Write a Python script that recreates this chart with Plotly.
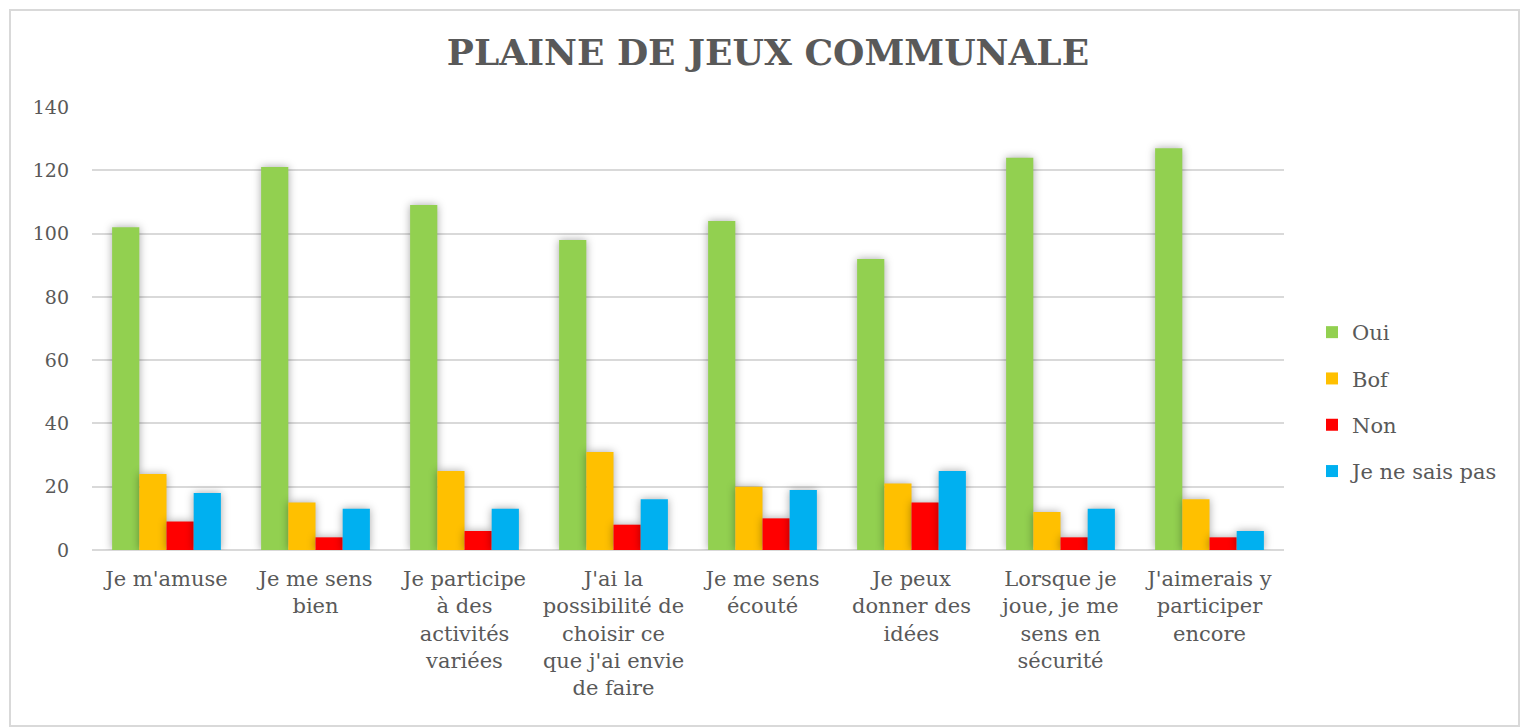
import plotly.graph_objects as go

# Survey answers per statement
categories = [
    "Je m'amuse",
    "Je me sens<br>bien",
    "Je participe<br>à des<br>activités<br>variées",
    "J'ai la<br>possibilité de<br>choisir ce<br>que j'ai envie<br>de faire",
    "Je me sens<br>écouté",
    "Je peux<br>donner des<br>idées",
    "Lorsque je<br>joue, je me<br>sens en<br>sécurité",
    "J'aimerais y<br>participer<br>encore",
]
oui = [102, 121, 109, 98, 104, 92, 124, 127]
bof = [24, 15, 25, 31, 20, 21, 12, 16]
non = [9, 4, 6, 8, 10, 15, 4, 4]
ne_sais_pas = [18, 13, 13, 16, 19, 25, 13, 6]

y_ticks = [0, 20, 40, 60, 80, 100, 120, 140]

series = [
    ("Oui", oui, "#92D050"),
    ("Bof", bof, "#FFC000"),
    ("Non", non, "#FF0000"),
    ("Je ne sais pas", ne_sais_pas, "#00B0F0"),
]

FONT = "DejaVu Serif"
GREY = "#595959"

fig = go.Figure()
for name, vals, color in series:
    fig.add_trace(go.Bar(
        x=categories, y=vals, name=name,
        marker=dict(color=color, line=dict(width=0)),
        legendgroup=name,
    ))

W, H = 1521, 728
L, R, T, B = 92, 237, 107, 178
pw, ph = W - L - R, H - T - B

def px_x(v):
    return (v - L) / pw

def px_y(v):
    return (H - B - v) / ph

fig.update_layout(
    width=W, height=H,
    margin=dict(l=L, r=R, t=T, b=B),
    paper_bgcolor="white", plot_bgcolor="white",
    barmode="group", bargap=0.27, bargroupgap=0.0,
    title=dict(
        text="<b>PLAINE DE JEUX COMMUNALE</b>",
        font=dict(family=FONT, size=36, color=GREY),
        x=768 / W, xanchor="center", xref="container",
        y=1 - 52 / H, yanchor="middle", yref="container",
    ),
    font=dict(family=FONT, size=20, color=GREY),
    xaxis=dict(
        showgrid=False, showline=False, ticks="",
        tickfont=dict(family=FONT, size=21, color=GREY),
        ticklabelstandoff=14,
    ),
    yaxis=dict(
        range=[0, 140], tickvals=y_ticks,
        showgrid=True, gridcolor="#D9D9D9", gridwidth=2,
        zeroline=True, zerolinecolor="#D9D9D9", zerolinewidth=2,
        showline=False, ticks="",
        tickfont=dict(family=FONT, size=19, color=GREY),
        ticklabelstandoff=22,
    ),
    legend=dict(
        x=px_x(1312), xanchor="left",
        y=px_y(402), yanchor="middle",
        font=dict(family=FONT, size=21, color=GREY),
        tracegroupgap=16, itemwidth=30,
        bgcolor="rgba(0,0,0,0)",
    ),
    shapes=[dict(
        type="rect", xref="paper", yref="paper",
        x0=px_x(10), x1=px_x(1519), y0=px_y(726), y1=px_y(10),
        line=dict(color="#D9D9D9", width=2), fillcolor="rgba(0,0,0,0)",
        layer="below",
    )],
)

# soft shadow around the bars
shadow_js = """
document.querySelectorAll('.trace.bars .point path').forEach(function(p){
  p.style.filter = 'drop-shadow(0px 0px 4px rgba(0,0,0,0.35))';
});
"""

fig.write_html("out.html", post_script=shadow_js)
